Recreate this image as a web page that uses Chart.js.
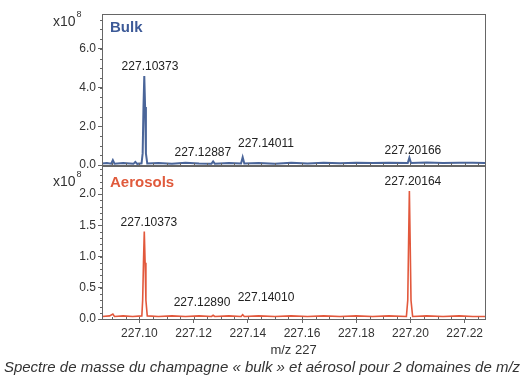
<!DOCTYPE html>
<html>
<head>
<meta charset="utf-8">
<script src="https://cdn.jsdelivr.net/npm/chart.js@4.4.1/dist/chart.umd.min.js"></script>
<style>
  body { margin: 0; background: #fff; }
  #wrap { position: relative; width: 524px; height: 380px; }
  #wrap canvas { position: absolute; left: 0; }
  #caption { position: absolute; left: 0; top: 358px; width: 524px; text-align: center; line-height: 17px;
    font: italic 15px "Liberation Sans", Arial, sans-serif; color: #333; white-space: nowrap; }
</style>
</head>
<body>
<div id="wrap">
  <canvas id="ChartBulk" width="524" height="180" style="top:0px"></canvas>
  <canvas id="ChartAerosols" width="524" height="210" style="top:150px"></canvas>
  <div id="caption">Spectre de masse du champagne « bulk » et aérosol pour 2 domaines de m/z</div>
</div>
<script>
// m/z (x) and intensity (x10^8)
var mzBulk = [227.0862, 227.0880, 227.0896, 227.0902, 227.0908, 227.0940, 227.0978, 227.0985, 227.0992,
  227.1008, 227.1012, 227.1015, 227.1018, 227.1021, 227.1024, 227.1029, 227.1070, 227.1120, 227.1170,
  227.1220, 227.1266, 227.1272, 227.1278, 227.1330, 227.1375, 227.1381, 227.1387, 227.1440, 227.1500,
  227.1560, 227.1620, 227.1680, 227.1740, 227.1800, 227.1860, 227.1920, 227.1990, 227.1996, 227.2002,
  227.2060, 227.2120, 227.2180, 227.2230, 227.2275];
var intBulk = [0.08, 0.10, 0.07, 0.25, 0.07, 0.10, 0.06, 0.16, 0.06,
  0.09, 0.6, 3.0, 4.6, 3.0, 0.6, 0.08, 0.10, 0.07, 0.11,
  0.08, 0.07, 0.18, 0.07, 0.10, 0.08, 0.40, 0.08, 0.10, 0.07,
  0.11, 0.08, 0.12, 0.09, 0.12, 0.10, 0.11, 0.10, 0.38, 0.10,
  0.13, 0.10, 0.12, 0.11, 0.10];

var mzAero = [227.0862, 227.0890, 227.0902, 227.0908, 227.0940, 227.0975, 227.1009, 227.1012, 227.1015,
  227.1018, 227.1021, 227.1024, 227.1029, 227.1070, 227.1120, 227.1170, 227.1220, 227.1266, 227.1272,
  227.1278, 227.1330, 227.1375, 227.1381, 227.1387, 227.1440, 227.1500, 227.1560, 227.1620, 227.1680,
  227.1740, 227.1800, 227.1860, 227.1920, 227.1985, 227.1990, 227.1993, 227.1996, 227.1999, 227.2002,
  227.2008, 227.2060, 227.2120, 227.2180, 227.2230, 227.2275];
var intAero = [0.04, 0.05, 0.08, 0.04, 0.05, 0.04, 0.05, 0.3, 0.9,
  1.4, 0.9, 0.3, 0.05, 0.04, 0.05, 0.04, 0.05, 0.04, 0.06,
  0.04, 0.05, 0.04, 0.07, 0.04, 0.05, 0.04, 0.05, 0.04, 0.05,
  0.04, 0.05, 0.04, 0.05, 0.04, 0.3, 1.2, 2.05, 1.2, 0.3,
  0.04, 0.05, 0.04, 0.05, 0.04, 0.04];

var xTickMin = 227.0862;
var xTickMax = 227.2275;

// peak labels: text, x (m/z), y (x10^8)
var lblBulkText = ['227.10373', '227.12887', '227.14011', '227.20166'];
var lblBulkX = [227.1039, 227.1234, 227.1467, 227.2009];
var lblBulkY = [4.75, 0.31, 0.77, 0.44];

var lblAeroText = ['227.10373', '227.12890', '227.14010', '227.20164'];
var lblAeroX = [227.1035, 227.1231, 227.1467, 227.2009];
var lblAeroY = [1.45, 0.16, 0.24, 2.11];

function toXY(xs, ys) {
  var out = [];
  for (var i = 0; i < xs.length; i++) out.push({ x: xs[i], y: ys[i] });
  return out;
}

var fontFam = '"Liberation Sans", Arial, sans-serif';

function panelPlugin(name, color, nameDy, expDy, minorStep, texts, lx, ly) {
  return {
    id: 'panel' + name,
    afterDraw: function (chart) {
      var c = chart.ctx, a = chart.chartArea;
      var sx = chart.scales.x, sy = chart.scales.y;
      c.save();
      // frame
      c.strokeStyle = '#666';
      c.lineWidth = 1;
      c.strokeRect(a.left + 0.5, a.top + 0.5, a.right - a.left, a.bottom - a.top);
      // minor ticks
      c.beginPath();
      for (var v = 227.090; v < xTickMax; v += 0.005) {
        var px = Math.round(sx.getPixelForValue(v)) + 0.5;
        c.moveTo(px, a.bottom);
        c.lineTo(px, a.bottom - 2);
      }
      for (var w = 0; w < sy.max; w += minorStep) {
        var py = Math.round(sy.getPixelForValue(w)) + 0.5;
        c.moveTo(a.left - 2, py);
        c.lineTo(a.left, py);
      }
      c.stroke();
      // panel name
      c.fillStyle = color;
      c.font = 'bold 15px ' + fontFam;
      c.textAlign = 'left';
      c.textBaseline = 'middle';
      c.fillText(name, a.left + 8, a.top + nameDy);
      // x10^8
      c.fillStyle = '#333';
      c.font = '14px ' + fontFam;
      c.fillText('x10', 53, a.top + expDy);
      var wx = c.measureText('x10').width;
      c.font = '9px ' + fontFam;
      c.fillText('8', 54 + wx, a.top + expDy - 7);
      // peak labels
      c.font = '12px ' + fontFam;
      c.fillStyle = '#222';
      c.textAlign = 'center';
      c.textBaseline = 'bottom';
      for (var i = 0; i < texts.length; i++) {
        c.fillText(texts[i], sx.getPixelForValue(lx[i]), sy.getPixelForValue(ly[i]));
      }
      c.restore();
    }
  };
}

function yAxis(max, step) {
  return {
    min: 0, max: max,
    border: { display: false },
    grid: { drawOnChartArea: false, drawTicks: true, tickLength: 4, color: '#666' },
    ticks: {
      stepSize: step, includeBounds: false, padding: 2, color: '#333',
      font: { family: fontFam, size: 12 },
      callback: function (v) { return v.toFixed(1); }
    },
    afterFit: function (s) { s.width = 102; }
  };
}

var ctx = document.getElementById('ChartBulk').getContext('2d');
var chartBulk = new Chart(ctx, {
  type: 'line',
  data: {
    datasets: [{
      label: 'Bulk',
      data: toXY(mzBulk, intBulk),
      borderColor: '#4a6599',
      borderWidth: 2,
      pointRadius: 0,
      tension: 0,
      fill: false
    }]
  },
  options: {
    responsive: false,
    animation: false,
    layout: { padding: { top: 14, right: 39, bottom: 15, left: 0 } },
    plugins: { legend: { display: false }, tooltip: { enabled: false } },
    scales: {
      x: { type: 'linear', min: xTickMin, max: xTickMax, display: false },
      y: yAxis(7.8, 2)
    }
  },
  plugins: [panelPlugin('Bulk', '#3d5a98', 14, 8, 0.5, lblBulkText, lblBulkX, lblBulkY)]
});

var ctx2 = document.getElementById('ChartAerosols').getContext('2d');
var chartAero = new Chart(ctx2, {
  type: 'line',
  data: {
    datasets: [{
      label: 'Aerosols',
      data: toXY(mzAero, intAero),
      borderColor: '#e2583c',
      borderWidth: 1.6,
      pointRadius: 0,
      tension: 0,
      fill: false
    }]
  },
  options: {
    responsive: false,
    animation: false,
    layout: { padding: { top: 16, right: 39, bottom: 0, left: 0 } },
    plugins: { legend: { display: false }, tooltip: { enabled: false } },
    scales: {
      x: {
        type: 'linear', min: xTickMin, max: xTickMax,
        border: { display: false },
        grid: { drawOnChartArea: false, drawTicks: true, tickLength: 4, color: '#666' },
        ticks: {
          stepSize: 0.02, includeBounds: false, padding: 3, color: '#333', maxRotation: 0,
          font: { family: fontFam, size: 12 },
          callback: function (v) { return v.toFixed(2); }
        },
        title: {
          display: true, text: 'm/z 227', color: '#333',
          font: { family: fontFam, size: 13 },
          padding: { top: 0, bottom: 2 }
        },
        afterFit: function (s) { s.height = 41; }
      },
      y: yAxis(2.45, 0.5)
    }
  },
  plugins: [panelPlugin('Aerosols', '#e05a3c', 17, 16, 0.1, lblAeroText, lblAeroX, lblAeroY)]
});
</script>
</body>
</html>
